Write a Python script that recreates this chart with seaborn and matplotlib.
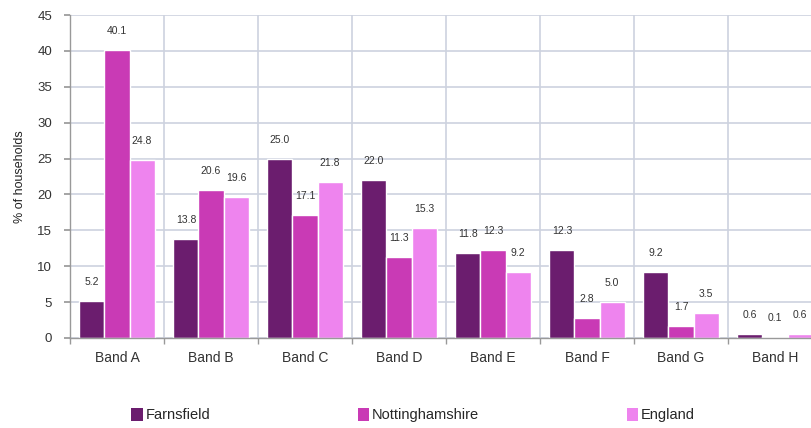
import matplotlib
matplotlib.use("Agg")
import matplotlib.pyplot as plt
import seaborn as sns
import pandas as pd
import numpy as np
from matplotlib.ticker import FixedLocator
from matplotlib.patches import Patch

bands = ["Band A", "Band B", "Band C", "Band D", "Band E", "Band F", "Band G", "Band H"]
farnsfield = [5.2, 13.8, 25.0, 22.0, 11.8, 12.3, 9.2, 0.6]
nottinghamshire = [40.1, 20.6, 17.1, 11.3, 12.3, 2.8, 1.7, 0.1]
england = [24.8, 19.6, 21.8, 15.3, 9.2, 5.0, 3.5, 0.6]
series_names = ["Farnsfield", "Nottinghamshire", "England"]
colors = ["#6B1D6E", "#C93AB5", "#EE84EE"]
yticks = [0, 5, 10, 15, 20, 25, 30, 35, 40, 45]

rows = []
for name, vals in zip(series_names, [farnsfield, nottinghamshire, england]):
    for b, v in zip(bands, vals):
        rows.append({"Band": b, "Area": name, "Value": v})
df = pd.DataFrame(rows)

sns.set_theme(style="white")
plt.rcParams["font.family"] = ["Liberation Sans", "DejaVu Sans"]

fig = plt.figure(figsize=(8.12, 4.28), dpi=100)
ax = fig.add_axes([70 / 812, 90 / 428, 752 / 812, 323 / 428])

sns.barplot(data=df, x="Band", y="Value", hue="Area", order=bands,
            hue_order=series_names, palette=colors, width=0.8,
            saturation=1, ax=ax, legend=False, errorbar=None)

for cont in ax.containers:
    ax.bar_label(cont, fmt="%.1f", padding=10, fontsize=7.5, color="#333333")

ax.set_xlim(-0.5, len(bands) - 0.5)
ax.set_ylim(0, 45)
ax.set_yticks(yticks)
ax.set_ylabel("% of households", fontsize=9, color="#222222", labelpad=8)
ax.set_xlabel("")

gridc = "#CDD2DF"
ax.yaxis.grid(True, color=gridc, linewidth=1.2)
ax.xaxis.set_minor_locator(FixedLocator(np.arange(-0.5, len(bands), 1.0)))
ax.xaxis.grid(True, which="minor", color=gridc, linewidth=1.2)
ax.xaxis.grid(False, which="major")
ax.set_axisbelow(True)

ax.tick_params(axis="x", which="major", length=0, labelsize=10, colors="#333333", pad=9)
ax.tick_params(axis="x", which="minor", length=4, color="#999999", bottom=True)
ax.tick_params(axis="y", length=4, color="#999999", left=True, labelsize=9.5,
               labelcolor="#333333", pad=9)

for s in ["top", "right"]:
    ax.spines[s].set_visible(False)
for s in ["left", "bottom"]:
    ax.spines[s].set_color("#999999")
    ax.spines[s].set_linewidth(1.0)

handles = [Patch(facecolor=c, edgecolor="none") for c in colors]
fig.legend(handles, series_names, loc="center", bbox_to_anchor=(413 / 812, 1 - 415 / 428),
           ncol=3, frameon=False, fontsize=10.5, handlelength=0.8, handleheight=1.0,
           handletextpad=0.2, columnspacing=10.1)

fig.savefig("out.png", dpi=100, facecolor="white")
